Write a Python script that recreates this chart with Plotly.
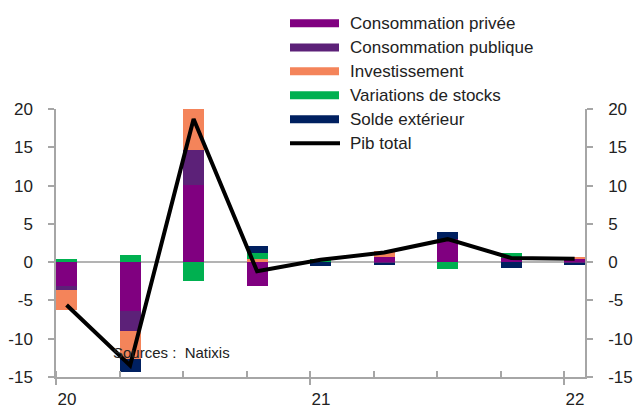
import plotly.graph_objects as go

quarters = ["2020T1", "2020T2", "2020T3", "2020T4", "2021T1", "2021T2", "2021T3", "2021T4", "2022T1"]
year_ticks = [0, 4, 8]
year_labels = ["20", "21", "22"]
y_ticks = [-15, -10, -5, 0, 5, 10, 15, 20]
y_labels = ["-15", "-10", "-5", "0", "5", "10", "15", "20"]

conso_privee = [-3.05, -6.4, 10.1, -3.1, 0.0, 0.7, 3.05, 0.6, 0.45]
conso_publique = [-0.65, -2.6, 4.5, 0.0, 0.0, -0.12, 0.0, 0.0, -0.1]
investissement = [-2.5, -3.7, 5.4, 0.45, 0.0, 0.75, 0.0, 0.0, 0.25]
stocks = [0.35, 0.9, -2.4, 0.7, 0.45, 0.0, -0.9, 0.6, 0.0]
solde_ext = [0.0, -1.6, 0.0, 0.95, -0.45, -0.15, 0.85, -0.75, -0.3]
pib_total = [-5.6, -13.5, 18.7, -1.2, 0.3, 1.25, 3.0, 0.55, 0.45]

series = [
    ("Consommation privée", conso_privee, "#800080"),
    ("Consommation publique", conso_publique, "#5C2178"),
    ("Investissement", investissement, "#F4845A"),
    ("Variations de stocks", stocks, "#00B050"),
    ("Solde extérieur", solde_ext, "#002060"),
]

W, H = 634, 408
ML, MR, MT, MB = 56, 49, 109, 31
PW, PH = W - ML - MR, H - MT - MB

def px_x(p):
    return (p - ML) / PW

def px_y(p):
    return (H - MB - p) / PH

FONT = "Liberation Sans, Arial, sans-serif"
TXT = "#222222"
AX = "#a6a6a6"
FS = 17

xs = list(range(len(quarters)))
xs_mid = [i + 1 / 6 for i in xs]

fig = go.Figure()
for name, vals, col in series:
    fig.add_trace(go.Bar(x=xs, y=vals, name=name, marker=dict(color=col, line=dict(width=0)),
                         width=1 / 3, offset=0, showlegend=False, hovertext=quarters))
fig.add_trace(go.Scatter(x=xs_mid, y=pib_total, mode="lines", name="Pib total",
                         line=dict(color="black", width=4), showlegend=False, yaxis="y2",
                         hovertext=quarters))

fig.update_layout(
    width=W, height=H,
    margin=dict(l=ML, r=MR, t=MT, b=MB, pad=0, autoexpand=False),
    paper_bgcolor="white", plot_bgcolor="white",
    barmode="relative", bargap=0,
    font=dict(family=FONT, size=FS, color=TXT),
    xaxis=dict(range=[0, 8.33], tickvals=year_ticks, ticktext=year_labels, ticks="outside",
               ticklen=6, tickcolor=AX, tickwidth=1.5,
               minor=dict(dtick=1, tick0=0, ticks="inside", ticklen=6, tickcolor=AX, tickwidth=1.5,
                          showgrid=False),
               showline=True, linecolor=AX, linewidth=1.5, showgrid=False,
               zeroline=False, ticklabelshift=11, ticklabelstandoff=0, automargin=False,
               tickfont=dict(size=FS, color=TXT)),
    yaxis=dict(range=[-15, 20], tickvals=y_ticks, ticktext=y_labels, ticks="outside",
               ticklen=6, tickcolor=AX, tickwidth=1.5, showline=True, linecolor=AX, linewidth=1.5,
               showgrid=False, zeroline=True, zerolinecolor="#b3b3b3", zerolinewidth=1.5,
               ticklabelstandoff=12, automargin=False, tickfont=dict(size=FS, color=TXT)),
    yaxis2=dict(range=[-15, 20], overlaying="y", side="right",
                tickvals=y_ticks, ticktext=y_labels, ticks="outside", ticklen=6,
                tickcolor=AX, tickwidth=1.5, showline=True, linecolor=AX, linewidth=1.5,
                showgrid=False, zeroline=False, ticklabelstandoff=12, automargin=False,
                tickfont=dict(size=FS, color=TXT)),
    showlegend=False,
)

# Manual legend (swatches + labels)
rows_y = [23.3, 47.5, 71.3, 95.3, 119.3, 143.3]
for (name, _, col), ry in zip(series, rows_y):
    fig.add_shape(type="rect", xref="paper", yref="paper",
                  x0=px_x(290), x1=px_x(339), y0=px_y(ry + 4), y1=px_y(ry - 4),
                  fillcolor=col, line=dict(width=0))
    fig.add_annotation(xref="paper", yref="paper", x=px_x(348), y=px_y(ry), text=name,
                       showarrow=False, xanchor="left", yanchor="middle",
                       font=dict(family=FONT, size=FS, color=TXT))
fig.add_shape(type="line", xref="paper", yref="paper",
              x0=px_x(290), x1=px_x(340), y0=px_y(rows_y[5]), y1=px_y(rows_y[5]),
              line=dict(color="black", width=4))
fig.add_annotation(xref="paper", yref="paper", x=px_x(348), y=px_y(rows_y[5]), text="Pib total",
                   showarrow=False, xanchor="left", yanchor="middle",
                   font=dict(family=FONT, size=FS, color=TXT))

fig.add_annotation(xref="paper", yref="paper", x=px_x(111), y=px_y(352),
                   text="Sources :  Natixis", showarrow=False, xanchor="left", yanchor="middle",
                   font=dict(family=FONT, size=15, color=TXT))

fig.write_html("out.html")
